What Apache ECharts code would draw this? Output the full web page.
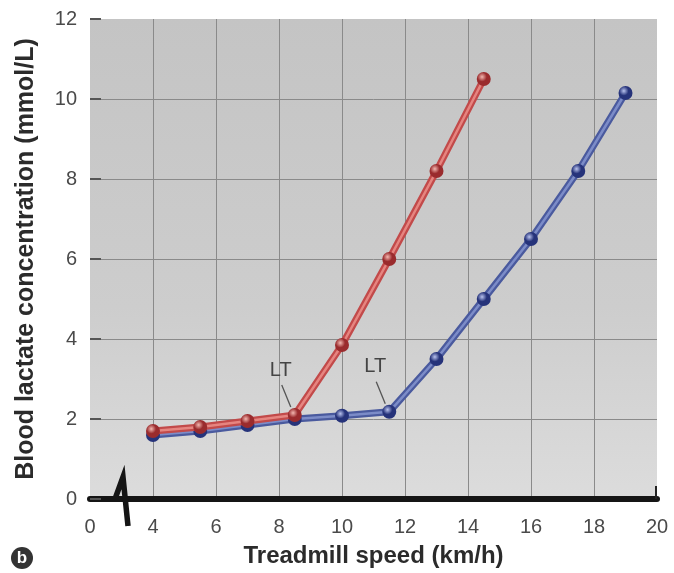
<!DOCTYPE html>
<html>
<head>
<meta charset="utf-8">
<script src="https://cdn.jsdelivr.net/npm/echarts@6/dist/echarts.min.js"></script>
<style>
html,body{margin:0;padding:0;background:#fff;}
#c{width:674px;height:573px;}
</style>
</head>
<body>
<div id="c"></div>
<script>
// ---- data ----
const speedsRed = [4, 5.5, 7, 8.5, 10, 11.5, 13, 14.5];
const lactateRed = [1.7, 1.8, 1.95, 2.1, 3.85, 6.0, 8.2, 10.5];
const speedsBlue = [4, 5.5, 7, 8.5, 10, 11.5, 13, 14.5, 16, 17.5, 19];
const lactateBlue = [1.6, 1.7, 1.85, 2.0, 2.08, 2.18, 3.5, 5.0, 6.5, 8.2, 10.15];
const ltRedIndex = 3;
const ltBlueIndex = 5;
const ltText = 'LT';
const xTitle = 'Treadmill speed (km/h)';
const yTitle = 'Blood lactate concentration (mmol/L)';
const panelLetter = 'b';

const FONT = 'Liberation Sans, Arial, Helvetica, sans-serif';
const pairs = (xs, ys) => xs.map((x, i) => [x, ys[i]]);

function ball(light, dark) {
  return {
    type: 'radial', x: 0.38, y: 0.35, r: 0.75,
    colorStops: [
      {offset: 0, color: light},
      {offset: 0.45, color: dark},
      {offset: 1, color: dark}
    ]
  };
}

const chart = echarts.init(document.getElementById('c'), null, {renderer: 'canvas'});

const option = {
  animation: false,
  backgroundColor: '#ffffff',
  grid: {
    left: 90, right: 17, top: 19, bottom: 74,
    show: true,
    borderWidth: 0,
    backgroundColor: {
      type: 'linear', x: 0, y: 0, x2: 0, y2: 1,
      colorStops: [
        {offset: 0, color: '#c4c4c4'},
        {offset: 0.6, color: '#cdcdcd'},
        {offset: 1, color: '#dcdcdc'}
      ]
    }
  },
  xAxis: {
    type: 'value',
    min: 2, max: 20, interval: 2,
    name: xTitle,
    nameLocation: 'middle',
    nameGap: 45,
    nameTextStyle: {fontFamily: FONT, fontSize: 24, fontWeight: 'bold', color: '#2b2b2b'},
    axisLine: {show: true, onZero: false, lineStyle: {color: '#151515', width: 6}},
    axisTick: {show: false},
    axisLabel: {
      margin: 18,
      fontFamily: FONT, fontSize: 20, color: '#4a4a4a',
      formatter: v => (v === 2 ? '0' : String(v))
    },
    splitLine: {show: true, showMinLine: false, showMaxLine: false, lineStyle: {color: '#8a8a8a', width: 1}}
  },
  yAxis: {
    type: 'value',
    min: 0, max: 12, interval: 2,
    name: yTitle,
    nameLocation: 'middle',
    nameGap: 51,
    nameTextStyle: {fontFamily: FONT, fontSize: 25, fontWeight: 'bold', color: '#2b2b2b'},
    axisLine: {show: false},
    axisTick: {show: true, inside: true, length: 11, lineStyle: {color: '#555', width: 2}},
    axisLabel: {margin: 13, fontFamily: FONT, fontSize: 20, color: '#4a4a4a'},
    splitLine: {show: true, showMinLine: false, showMaxLine: false, lineStyle: {color: '#8a8a8a', width: 1}}
  },
  series: [
    {
      name: 'blue-base', type: 'line', data: pairs(speedsBlue, lactateBlue),
      symbol: 'none', z: 3,
      lineStyle: {color: '#4a5a9e', width: 7}
    },
    {
      name: 'blue', type: 'line', data: pairs(speedsBlue, lactateBlue),
      symbol: 'circle', symbolSize: 14, z: 4,
      lineStyle: {color: '#7c8cc8', width: 2.5},
      itemStyle: {color: ball('#b9c3ee', '#26337a'), borderWidth: 0}
    },
    {
      name: 'red-base', type: 'line', data: pairs(speedsRed, lactateRed),
      symbol: 'none', z: 5,
      lineStyle: {color: '#c24a4a', width: 7}
    },
    {
      name: 'red', type: 'line', data: pairs(speedsRed, lactateRed),
      symbol: 'circle', symbolSize: 14, z: 6,
      lineStyle: {color: '#e68580', width: 2.5},
      itemStyle: {color: ball('#f3b7b0', '#9a2b2d'), borderWidth: 0}
    }
  ]
};
chart.setOption(option);

// decorations positioned through the chart's own scales
const toPx = (pt) => chart.convertToPixel({xAxisIndex: 0, yAxisIndex: 0}, pt);
const origin = toPx([2, 0]);
const ox = origin[0], oy = origin[1];
const endPt = toPx([20, 0]);
const redLT = toPx([speedsRed[ltRedIndex], lactateRed[ltRedIndex]]);
const blueLT = toPx([speedsBlue[ltBlueIndex], lactateBlue[ltBlueIndex]]);

function ltGroup(p) {
  return [
    {
      type: 'text', z: 10,
      style: {
        text: ltText, x: p[0] - 14, y: p[1] - 45,
        align: 'center', verticalAlign: 'middle',
        font: '20px ' + FONT, fill: '#444'
      }
    },
    {
      type: 'line', z: 10,
      shape: {x1: p[0] - 13, y1: p[1] - 30, x2: p[0] - 4, y2: p[1] - 8},
      style: {stroke: '#555', lineWidth: 1.3}
    }
  ];
}

chart.setOption({
  graphic: [
    // axis break symbol
    {
      type: 'polyline', z: 20,
      shape: {points: [[ox + 25, oy], [ox + 33, oy - 22], [ox + 38, oy + 27]]},
      style: {stroke: '#151515', lineWidth: 5.5, fill: null, lineJoin: 'miter', miterLimit: 10}
    },
    // end tick of x axis
    {
      type: 'line', z: 20,
      shape: {x1: endPt[0] - 1, y1: endPt[1], x2: endPt[0] - 1, y2: endPt[1] - 13},
      style: {stroke: '#222', lineWidth: 2}
    },
    // panel letter
    {
      type: 'circle', z: 20,
      shape: {cx: 22, cy: 558, r: 11},
      style: {fill: '#333'}
    },
    {
      type: 'text', z: 21,
      style: {text: panelLetter, x: 22, y: 558, align: 'center', verticalAlign: 'middle', font: 'bold 17px ' + FONT, fill: '#fff'}
    }
  ].concat(ltGroup(redLT), ltGroup(blueLT))
});
</script>
</body>
</html>
